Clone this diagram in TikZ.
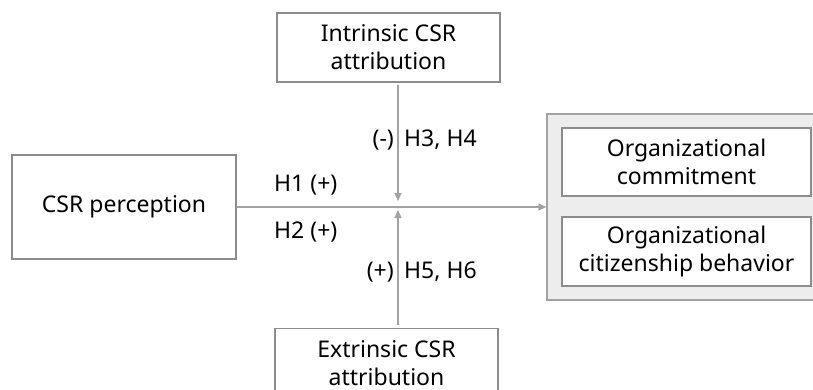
\documentclass[tikz,border=0pt]{standalone}
\usepackage{fontspec}
\setmainfont{Noto Sans}
\usetikzlibrary{arrows.meta}
\definecolor{boxline}{HTML}{8C8C8C}
\definecolor{arrline}{HTML}{A3A3A3}
\definecolor{groupfill}{HTML}{EDEDED}
\begin{document}
\begin{tikzpicture}[x=1pt,y=-1pt,
  every node/.style={font=\fontsize{23}{28}\selectfont, text=black},
  box/.style={draw=boxline, line width=1.2pt, fill=white, align=center, inner sep=0pt},
  group/.style={draw=boxline!80, line width=1.2pt, fill=groupfill, inner sep=0pt},
  arr/.style={draw=arrline, line width=1.3pt, -{Triangle[length=8pt,width=7pt]}},
  lbl/.style={inner sep=0pt}]
\clip (0,0) rectangle (813,389);
\useasboundingbox (0,0) rectangle (813,389);
\fill[white] (0,0) rectangle (813,389);
% nodes
\node[box, minimum width=223pt, minimum height=69pt] (intr) at (388.5,47.5) {Intrinsic CSR\\attribution};
\node[box, minimum width=224pt, minimum height=104pt] (csr) at (124,207) {CSR perception};
\node[box, minimum width=223pt, minimum height=69pt] (extr) at (386.5,363) {Extrinsic CSR\\attribution};
\node[group, minimum width=280pt, minimum height=186pt] (grp) at (687,207) {};
\node[box, minimum width=249pt, minimum height=68pt] (oc) at (686.5,162) {Organizational\\commitment};
\node[box, minimum width=249pt, minimum height=69pt] (ocb) at (686.5,251.5) {Organizational\\citizenship behavior};
% junction
\coordinate (jtop) at (398,201);
\coordinate (jbot) at (398,210);
% connectors
\draw[arr] (csr.east) -- (grp.west);
\draw[arr, shorten <=2pt] (intr.south -| jtop) -- (jtop);
\draw[arr, shorten <=3pt] (extr.north -| jbot) -- (jbot);
% labels
\node[lbl, anchor=east] (m1) at (394,140) {(-)};
\node[lbl, anchor=west] (h34) at (404,140) {H3, H4};
\node[lbl, anchor=west] (h1) at (274,185) {H1 (+)};
\node[lbl, anchor=west] (h2) at (274,232) {H2 (+)};
\node[lbl, anchor=east] (p1) at (394,272) {(+)};
\node[lbl, anchor=west] (h56) at (404,272) {H5, H6};
\end{tikzpicture}
\end{document}
